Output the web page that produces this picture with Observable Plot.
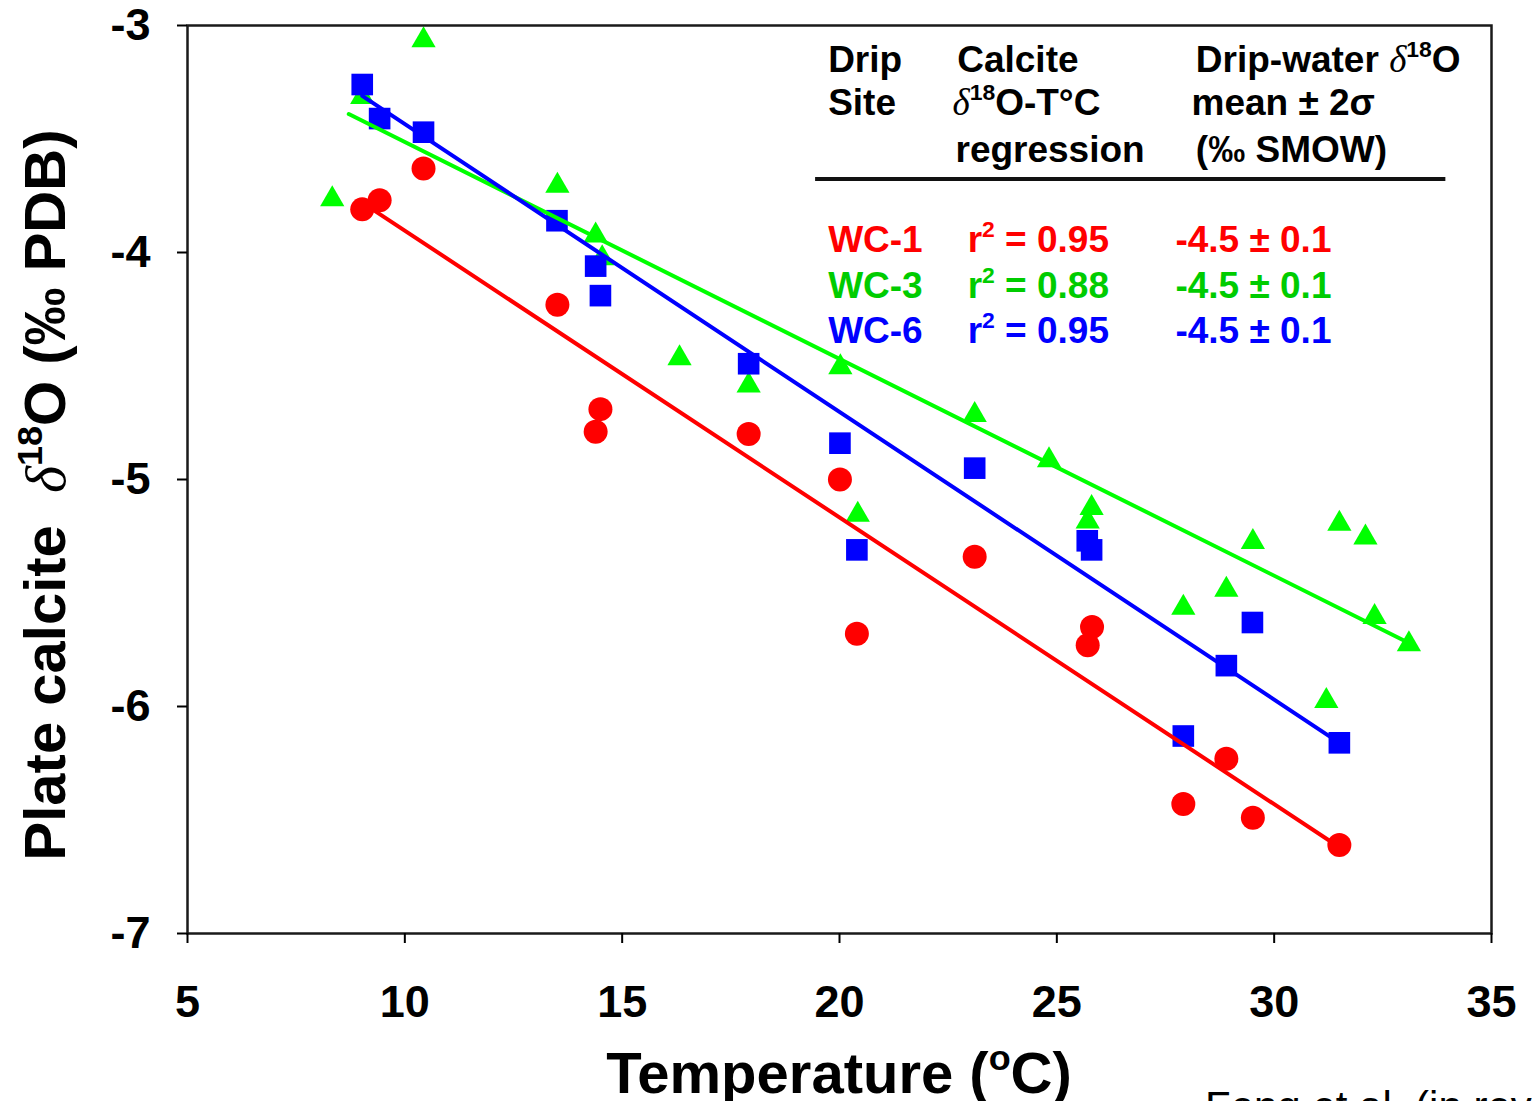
<!DOCTYPE html>
<html><head><meta charset="utf-8">
<script src="https://cdn.jsdelivr.net/npm/d3@7"></script>
<script src="https://cdn.jsdelivr.net/npm/@observablehq/plot@0.6"></script>
<style>
html,body{margin:0;padding:0;background:#fff;overflow:hidden;}
#chart svg{display:block;}
</style>
</head><body><div id="chart"></div>
<script>
// ---- Data ----
// WC-1 (red circles): temperature (°C) and plate calcite δ18O (‰ PDB)
const wc1T = [9.02, 9.42, 10.43, 13.51, 14.39, 14.50, 17.91, 20.01, 20.40, 23.11, 25.71, 25.81, 27.91, 28.90, 29.51, 31.50];
const wc1D = [-3.81, -3.77, -3.63, -4.23, -4.79, -4.69, -4.80, -5.00, -5.68, -5.34, -5.73, -5.65, -6.43, -6.23, -6.49, -6.61];
// WC-3 (green triangles)
const wc3T = [8.33, 9.02, 10.43, 13.51, 14.39, 14.54, 16.32, 17.91, 20.02, 20.42, 23.11, 24.82, 25.71, 25.80, 27.91, 28.90, 29.51, 31.20, 31.50, 32.10, 32.31, 33.10];
const wc3D = [-3.75, -3.30, -3.05, -3.69, -3.91, -4.01, -4.45, -4.57, -4.49, -5.14, -4.70, -4.90, -5.17, -5.11, -5.55, -5.47, -5.26, -5.96, -5.18, -5.24, -5.59, -5.71];
// WC-6 (blue squares)
const wc6T = [9.02, 9.42, 10.43, 13.50, 14.39, 14.50, 17.91, 20.01, 20.40, 23.11, 25.70, 25.80, 27.91, 28.90, 29.50, 31.50];
const wc6D = [-3.26, -3.41, -3.47, -3.86, -4.06, -4.19, -4.49, -4.84, -5.31, -4.95, -5.27, -5.31, -6.13, -5.82, -5.63, -6.16];

// Regression trendlines (end points)
const wc1LineT = [9.02, 31.50], wc1LineD = [-3.78, -6.62];
const wc3LineT = [8.71, 33.10], wc3LineD = [-3.39, -5.72];
const wc6LineT = [9.02, 31.50], wc6LineD = [-3.31, -6.16];

// Axis ticks
const xTicks = [5, 10, 15, 20, 25, 30, 35];
const yTicks = [-7, -6, -5, -4, -3];

// Inset table
const sites = ["WC-1", "WC-3", "WC-6"];
const r2Values = ["0.95", "0.88", "0.95"];
const dripWater = ["-4.5 ± 0.1", "-4.5 ± 0.1", "-4.5 ± 0.1"];
const textColors = ["#ff0000", "#00cc00", "#0000ff"];

// ---- Build ----
const FONT = "'Liberation Sans', Arial, Helvetica, sans-serif";
const SERIF = "'Liberation Serif', 'DejaVu Serif', serif";
const zip = (xs, ys) => xs.map((x, i) => ({x, y: ys[i]}));

const plot = Plot.plot({
  width: 1532,
  height: 1101,
  marginLeft: 187,
  marginRight: 41,
  marginTop: 25,
  marginBottom: 168,
  style: {fontFamily: FONT, background: "#fff", color: "#000"},
  x: {domain: [5, 35], label: null},
  y: {domain: [-7, -3], label: null},
  marks: [
    Plot.dot(zip(wc1T, wc1D), {x: "x", y: "y", symbol: "circle", r: 12, fill: "#ff0000", stroke: "none"}),
    Plot.dot(zip(wc3T, wc3D), {x: "x", y: "y", symbol: "triangle", r: 9.0, dy: 3.5, fill: "#00ff00", stroke: "none"}),
    Plot.dot(zip(wc6T, wc6D), {x: "x", y: "y", symbol: "square", r: 12.2, fill: "#0000ff", stroke: "none"}),
    Plot.line(zip(wc1LineT, wc1LineD), {x: "x", y: "y", stroke: "#ff0000", strokeWidth: 4}),
    Plot.line(zip(wc3LineT, wc3LineD), {x: "x", y: "y", stroke: "#00ff00", strokeWidth: 4}),
    Plot.line(zip(wc6LineT, wc6LineD), {x: "x", y: "y", stroke: "#0000ff", strokeWidth: 4}),
    Plot.frame({stroke: "#1a1a1a", strokeWidth: 2.5}),
    Plot.axisX({ticks: xTicks, tickSize: 10, tickPadding: 42, tickFormat: d => String(d), label: null,
      fontSize: 45, fontWeight: "bold", strokeWidth: 2, stroke: "#000"}),
    Plot.axisY({ticks: yTicks, tickSize: 10, tickPadding: 27, tickFormat: d => String(d), label: null,
      fontSize: 45, fontWeight: "bold", strokeWidth: 2, stroke: "#000"})
  ]
});
document.getElementById("chart").append(plot);

const svg = d3.select(plot);
const sx = plot.scale("x"), sy = plot.scale("y");
const X = v => sx.apply(v), Y = v => sy.apply(v);

// rich text helper: parts are strings or {t, italic, sup}
function rich(parent, x, y, parts, {size = 37, fill = "#000", anchor = "start", transform = null} = {}) {
  const t = parent.append("text")
    .attr("x", x).attr("y", y)
    .attr("font-size", size).attr("fill", fill)
    .attr("text-anchor", anchor)
    .attr("font-family", FONT).attr("font-weight", "bold")
    .style("white-space", "pre");
  if (transform) t.attr("transform", transform);
  let raised = false;
  const shift = size * 0.4;
  for (const p of parts) {
    const part = typeof p === "string" ? {t: p} : p;
    const ts = t.append("tspan").text(part.t);
    if (part.sup && !raised) { ts.attr("dy", -shift); raised = true; }
    else if (!part.sup && raised) { ts.attr("dy", shift); raised = false; }
    if (part.sup) ts.attr("font-size", size * 0.62);
    if (part.italic) ts.attr("font-style", "italic").attr("font-family", SERIF).attr("font-weight", "normal");
  }
  return t;
}

// Inset table (positions in data units)
const tbl = svg.append("g");
const colSite = 19.75, colReg = 22.96, colDrip = 27.74;
const headBase = [-3.207, -3.396, -3.602];
rich(tbl, X(colSite), Y(headBase[0]), ["Drip"]);
rich(tbl, X(colSite), Y(headBase[1]), ["Site"]);
rich(tbl, X(22.72), Y(headBase[0]), ["Calcite"]);
rich(tbl, X(22.61), Y(headBase[1]), [{t: "δ", italic: true}, {t: "18", sup: true}, "O-T°C"]);
rich(tbl, X(22.68), Y(headBase[2]), ["regression"]);
rich(tbl, X(28.21), Y(headBase[0]), ["Drip-water ", {t: "δ", italic: true}, {t: "18", sup: true}, "O"]);
rich(tbl, X(28.11), Y(headBase[1]), ["mean ± 2σ"]);
rich(tbl, X(28.21), Y(headBase[2]), ["(‰ SMOW)"]);
tbl.append("line")
  .attr("x1", X(19.45)).attr("x2", X(33.95))
  .attr("y1", Y(-3.678)).attr("y2", Y(-3.678))
  .attr("stroke", "#111").attr("stroke-width", 4);
const rowBase = [-4.0, -4.203, -4.401];
sites.forEach((s, i) => {
  rich(tbl, X(colSite), Y(rowBase[i]), [s], {fill: textColors[i]});
  rich(tbl, X(colReg), Y(rowBase[i]), ["r", {t: "2", sup: true}, " = " + r2Values[i]], {fill: textColors[i]});
  rich(tbl, X(colDrip), Y(rowBase[i]), [dripWater[i]], {fill: textColors[i]});
});

// Axis titles
const xMid = (X(5) + X(35)) / 2;
const yMid = (Y(-3) + Y(-7)) / 2;
rich(svg, xMid, 1093, ["Temperature (", {t: "o", sup: true}, "C)"], {size: 58, anchor: "middle"});
rich(svg, 0, 0, ["Plate calcite  ", {t: "δ", italic: true}, {t: "18", sup: true}, "O (‰ PDB)"],
  {size: 58, anchor: "middle", transform: `translate(65,${yMid + 16}) rotate(-90)`});

// Source note (cut off at the bottom edge)
svg.append("text")
  .attr("x", 1205).attr("y", 1121)
  .attr("text-anchor", "start")
  .attr("font-family", FONT).attr("font-size", 42).attr("fill", "#000")
  .text("Feng et al. (in review)");
</script>
</body></html>
